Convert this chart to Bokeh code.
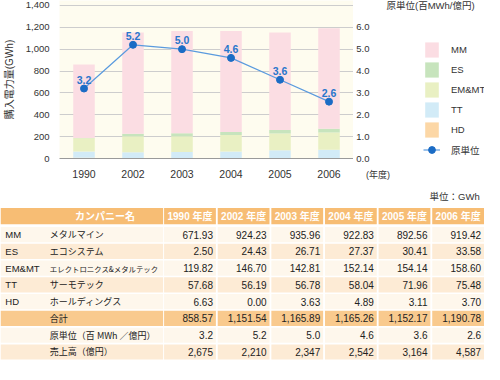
from bokeh.plotting import figure
from bokeh.models import (Range1d, Legend, LegendItem, Label, LabelSet,
                          NumeralTickFormatter, FixedTicker, ColumnDataSource)
from bokeh.layouts import row
from bokeh.core.properties import value
from bokeh.embed import file_html
from bokeh.resources import INLINE

# ---------------- data ----------------
years = ["1990", "2002", "2003", "2004", "2005", "2006"]
mm = [671.93, 924.23, 935.96, 922.83, 892.56, 919.42]
es = [2.50, 24.43, 26.71, 27.37, 30.41, 33.58]
emmt = [119.82, 146.70, 142.81, 152.14, 154.14, 158.60]
tt = [57.68, 56.19, 56.78, 58.04, 71.96, 75.48]
hd = [6.63, 0.00, 3.63, 4.89, 3.11, 3.70]
total = [858.57, 1151.54, 1165.89, 1165.26, 1152.17, 1190.78]
intensity = [3.2, 5.2, 5.0, 4.6, 3.6, 2.6]
sales = [2675, 2210, 2347, 2542, 3164, 4587]

codes = ["MM", "ES", "EM&MT", "TT", "HD"]
company_names = ["メタルマイン", "エコシステム", "エレクトロニクス&メタルテック",
                 "サーモテック", "ホールディングス"]
summary_labels = ["合計", "原単位（百 MWh ／億円）", "売上高（億円）"]
col_headers = [y + " 年度" for y in years]
left_ticks = [0, 200, 400, 600, 800, 1000, 1200, 1400]
right_ticks = [0, 1, 2, 3, 4, 5, 6]
legend_labels = ["MM", "ES", "EM&MT", "TT", "HD"]
series_colors = {"MM": "#fbdde3", "ES": "#c7e4bd", "EM&MT": "#e9f0c3",
                 "TT": "#d2ebf7", "HD": "#fcd7a6"}

LAT = "Liberation Sans"
JP = "Noto Sans CJK JP"
MIX = "Liberation Sans, Noto Sans CJK JP"
TXT = "#333333"
LINE_C = "#5a9ade"
DOT_C = "#1b6cc5"

W = 484
CH = 182
TH = 180
Y_END = 1445          # GWh at frame top
INT_END = Y_END / 200  # matching intensity scale (1.0 <-> 200 GWh)

# ---------------- chart ----------------
CW = 353
FB = 21
p = figure(x_range=years, y_range=Range1d(0, Y_END), width=CW, height=CH,
           output_backend="svg", toolbar_location=None,
           min_border_left=46, min_border_right=0, min_border_top=0,
           min_border_bottom=FB)
p.background_fill_color = "#fefcef"
p.border_fill_color = "white"
p.outline_line_color = None
p.extra_y_ranges = {"int": Range1d(0, INT_END)}

src = ColumnDataSource(dict(year=years, MM=mm, ES=es, EMMT=emmt, TT=tt, HD=hd))
stack_keys = ["HD", "TT", "EMMT", "ES", "MM"]
stack_colors = [series_colors[k] for k in ["HD", "TT", "EM&MT", "ES", "MM"]]
p.vbar_stack(stack_keys, x="year", width=0.44, fill_color=stack_colors,
             line_color=None, source=src)

lsrc = ColumnDataSource(dict(year=years, v=intensity,
                             lbl=["%.1f" % v for v in intensity]))
p.line("year", "v", source=lsrc, y_range_name="int", line_color=LINE_C,
       line_width=1.2)
p.scatter("year", "v", source=lsrc, y_range_name="int", size=7,
          fill_color=DOT_C, line_color=DOT_C)
p.add_layout(LabelSet(x="year", y="v", text="lbl", source=lsrc, y_range_name="int",
                      y_offset=5, text_align="center", text_baseline="bottom",
                      text_font=value(LAT), text_font_size="10.5px",
                      text_font_style="bold", text_color="#2876cc"))

p.yaxis.ticker = FixedTicker(ticks=left_ticks)
p.yaxis.formatter = NumeralTickFormatter(format="0,0")
p.yaxis.axis_label = "購入電力量(GWh)"
p.yaxis.axis_label_text_font = MIX
p.yaxis.axis_label_text_font_size = "10px"
p.yaxis.axis_label_text_font_style = "normal"
p.yaxis.axis_label_text_color = TXT
p.yaxis.axis_label_standoff = 8
p.yaxis.major_label_standoff = 4
p.yaxis.axis_line_color = None
p.yaxis.major_tick_line_color = None
p.yaxis.minor_tick_line_color = None
p.yaxis.major_label_text_font = LAT
p.yaxis.major_label_text_font_size = "9.5px"
p.yaxis.major_label_text_color = TXT

p.xaxis.axis_line_color = "#9a9a9a"
p.xaxis.major_tick_line_color = None
p.xaxis.minor_tick_line_color = None
p.xaxis.major_label_text_font = LAT
p.xaxis.major_label_text_font_size = "10.5px"
p.xaxis.major_label_text_color = TXT
p.xaxis.major_label_standoff = 5

p.ygrid.ticker = FixedTicker(ticks=left_ticks)
p.ygrid.grid_line_color = "#cdcdcd"
p.xgrid.grid_line_color = None

# ---------------- right side: secondary axis, legend, headers ----------------
SW = W - CW
SL = 21
s = figure(width=SW, height=CH, x_range=Range1d(CW + SL, W),
           y_range=Range1d(0, INT_END), output_backend="svg",
           toolbar_location=None, min_border_left=SL, min_border_right=0,
           min_border_top=0, min_border_bottom=FB)
s.outline_line_color = None
s.background_fill_color = "white"
s.border_fill_color = "white"
s.grid.visible = False

s.yaxis.ticker = FixedTicker(ticks=right_ticks)
s.yaxis.formatter = NumeralTickFormatter(format="0.0")
s.yaxis.major_label_standoff = 2
s.yaxis.axis_line_color = None
s.yaxis.major_tick_line_color = None
s.yaxis.minor_tick_line_color = None
s.yaxis.major_label_text_font = LAT
s.yaxis.major_label_text_font_size = "9.5px"
s.yaxis.major_label_text_color = TXT

year_tick = CW + SL + 0.5
s.xaxis.ticker = FixedTicker(ticks=[year_tick])
s.xaxis.major_label_overrides = {year_tick: "(年度)"}
s.xaxis.axis_line_color = None
s.xaxis.major_tick_line_color = None
s.xaxis.minor_tick_line_color = None
s.xaxis.major_label_text_font = MIX
s.xaxis.major_label_text_font_size = "9px"
s.xaxis.major_label_text_color = TXT
s.xaxis.major_label_standoff = 5

# legend keys: same styles as the chart's series, parked outside the visible range
legend_renderers = []
for k in legend_labels:
    legend_renderers.append(s.vbar(x=[0], top=[0], width=1,
                                   fill_color=series_colors[k], line_color=None))
lr = s.line(x=[0, 1], y=[0, 0], line_color=LINE_C, line_width=1.2)
sr = s.scatter(x=[0], y=[0], size=7, fill_color=DOT_C, line_color=DOT_C)
items = [LegendItem(label=k, renderers=[r]) for k, r in zip(legend_labels, legend_renderers)]
items.append(LegendItem(label="原単位", renderers=[lr, sr]))
leg = Legend(items=items, location=(46, -1), glyph_width=17, glyph_height=19,
             label_height=19, spacing=1, padding=0, margin=0, label_standoff=11,
             border_line_color=None, background_fill_alpha=0,
             label_text_font=MIX, label_text_font_size="9.5px",
             label_text_color=TXT)
s.add_layout(leg)

frame_h = CH - FB
s.add_layout(Label(x=9, y=frame_h - 7.5, x_units="screen", y_units="screen",
                   text="原単位(百MWh/億円)", text_font=MIX, text_font_size="9.5px",
                   text_color=TXT, text_baseline="middle", text_align="left"))

chart = row(p, s)

# ---------------- table ----------------
SX = W / 500.0
SY = TH / 190.0


def fx(x):
    return x * SX


def fy(y):
    return (y - 190) * SY


HEADER_TOP, HEADER_H = 217, 17
ROW_TOP0, ROW_PITCH, ROW_H = 237, 17.7, 16
COL0_R = 168
YCOL_L0, YCOL_PITCH, YCOL_W = 169, 55.4, 53.5
HEADER_FILL = "#f7bd74"
row_fills = ["#fef7ec", "#fdebd5", "#fef7ec", "#fdebd5", "#fef7ec",
             "#f9ca8e", "#fef7ec", "#fdebd5"]

t = figure(width=W, height=TH, x_range=Range1d(0, W), y_range=Range1d(TH, 0),
           output_backend="svg", toolbar_location=None, min_border=0,
           x_axis_type=None, y_axis_type=None)
t.grid.visible = False
t.outline_line_color = None
t.background_fill_color = "white"
t.border_fill_color = "white"

col_lefts = [0] + [YCOL_L0 + YCOL_PITCH * j for j in range(len(years))]
col_rights = [COL0_R] + [YCOL_L0 + YCOL_PITCH * j + YCOL_W for j in range(len(years))]

ql, qr, qt, qb, qc = [], [], [], [], []
row_tops = [HEADER_TOP] + [ROW_TOP0 + ROW_PITCH * i for i in range(8)]
row_hs = [HEADER_H] + [ROW_H] * 8
fills = [HEADER_FILL] + row_fills
for top, h, fc in zip(row_tops, row_hs, fills):
    for l, r in zip(col_lefts, col_rights):
        ql.append(fx(l)); qr.append(fx(r))
        qt.append(fy(top)); qb.append(fy(top + h)); qc.append(fc)
t.quad(left=ql, right=qr, top=qt, bottom=qb, fill_color=qc, line_color=None)

hx = [fx(108)] + [fx((l + r) / 2) for l, r in zip(col_lefts[1:], col_rights[1:])]
hy = [fy(HEADER_TOP + HEADER_H / 2)] * len(hx)
t.text(x=hx, y=hy, text=["カンパニー名"] + col_headers, text_align="center",
       text_baseline="middle", text_font=value(MIX), text_font_size="10px",
       text_font_style="bold", text_color="white")

row_centers = [fy(ROW_TOP0 + ROW_PITCH * i + ROW_H / 2) for i in range(8)]

t.text(x=[fx(5)] * len(codes), y=row_centers[:5], text=codes, text_align="left",
       text_baseline="middle", text_font=value(LAT), text_font_size="9.5px",
       text_color="#222222")

names = company_names + summary_labels
long_name = company_names[2]
name_sizes = ["7.4px" if n == long_name else "9px" for n in names]
nsrc = ColumnDataSource(dict(x=[fx(51)] * len(names), y=row_centers, t=names,
                             s=name_sizes))
t.text(x="x", y="y", text="t", text_font_size="s", source=nsrc, text_align="left",
       text_baseline="middle", text_font=value(JP), text_color="#222222")

table_rows = [["%.2f" % v for v in mm], ["%.2f" % v for v in es],
              ["%.2f" % v for v in emmt], ["%.2f" % v for v in tt],
              ["%.2f" % v for v in hd], ["{:,.2f}".format(v) for v in total],
              ["%.1f" % v for v in intensity], ["{:,}".format(v) for v in sales]]
vx, vy, vt = [], [], []
for i, rw in enumerate(table_rows):
    for j, txt in enumerate(rw):
        vx.append(fx(col_rights[j + 1] - 3))
        vy.append(row_centers[i])
        vt.append(txt)
t.text(x=vx, y=vy, text=vt, text_align="right", text_baseline="middle",
       text_font=value(LAT), text_font_size="10px", text_color="#222222")

t.text(x=[fx(495)], y=[fy(205)], text=["単位：GWh"], text_align="right",
       text_baseline="middle", text_font=value(MIX), text_font_size="9.5px",
       text_color=TXT)

open("out.html", "w").write(file_html([chart, t], INLINE))
